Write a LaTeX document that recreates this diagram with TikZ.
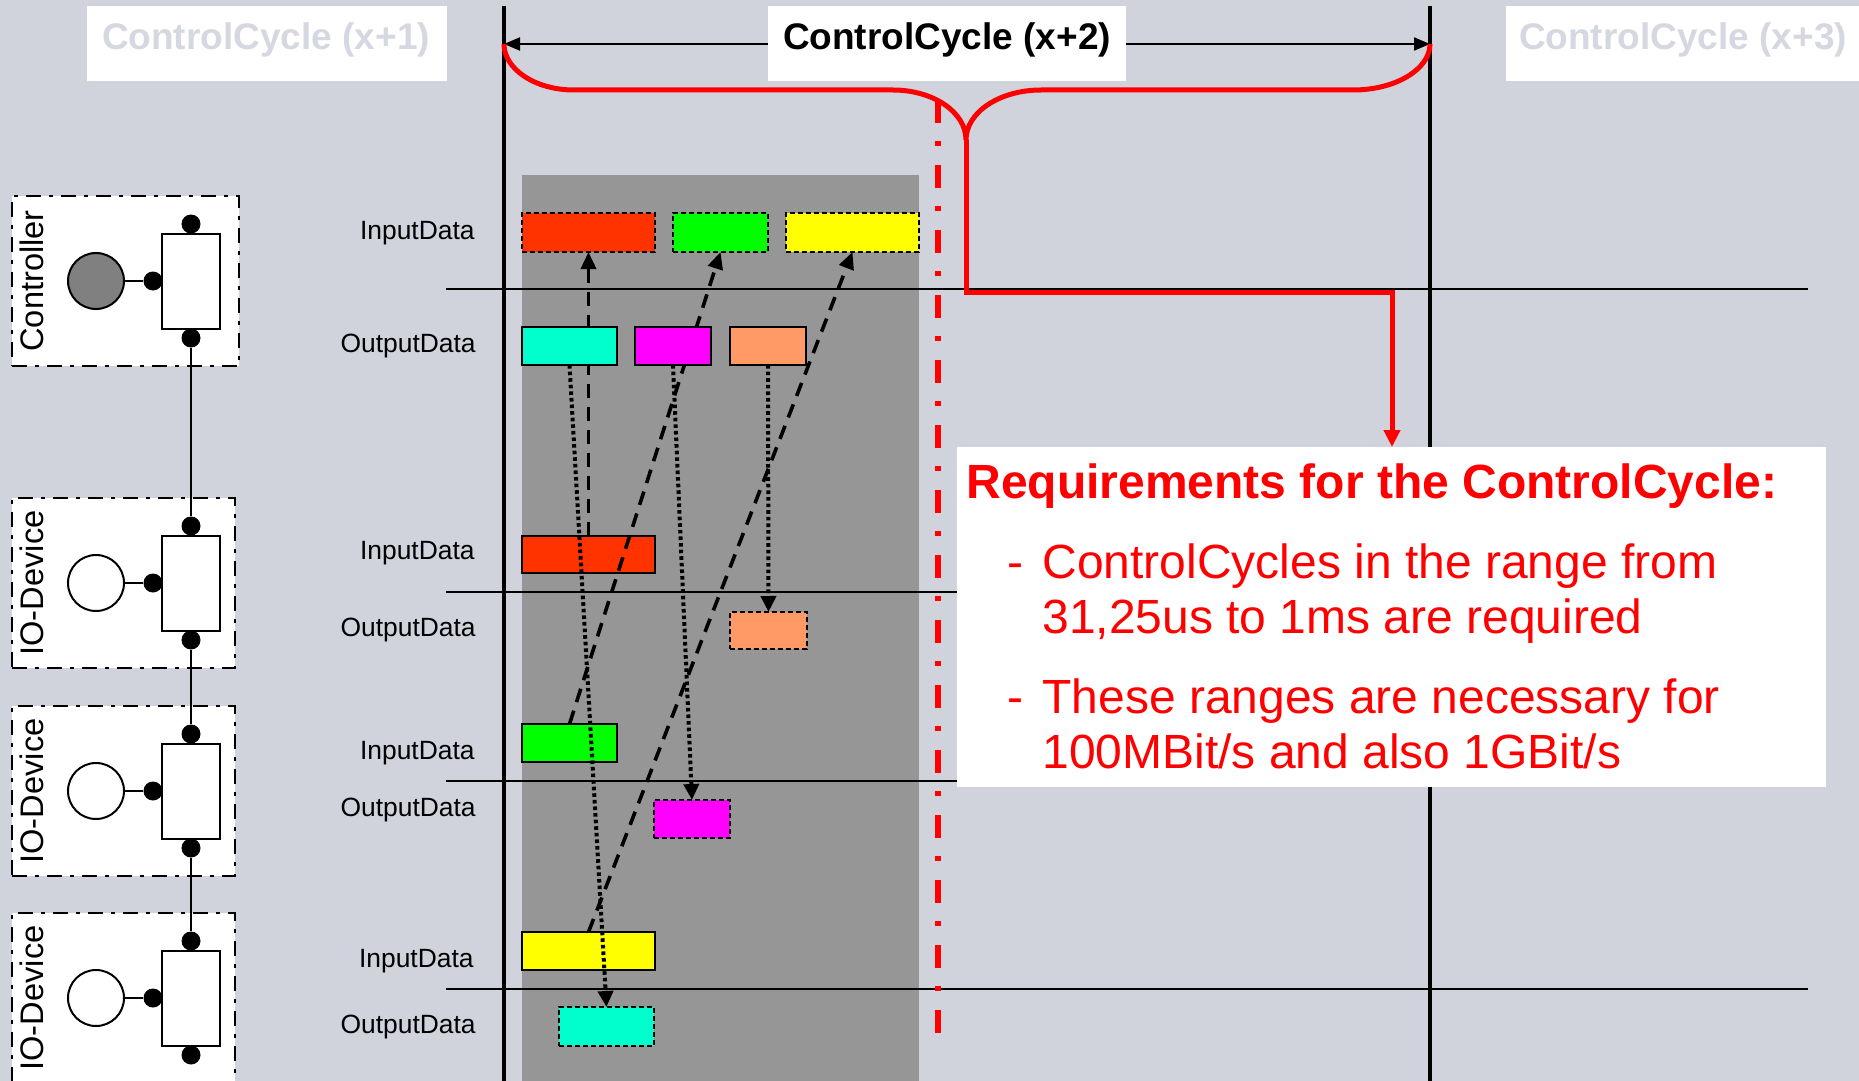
\documentclass[tikz,border=0pt]{standalone}
\usepackage{fontspec}
\setmainfont{Liberation Sans}
\usetikzlibrary{arrows.meta,fit,calc}

\definecolor{bgcol}{RGB}{208,211,220}
\definecolor{panelgray}{RGB}{150,150,150}
\definecolor{ghost}{RGB}{213,216,224}
\definecolor{redin}{RGB}{255,51,0}
\definecolor{greenin}{RGB}{0,255,0}
\definecolor{yellowin}{RGB}{255,255,0}
\definecolor{cyanout}{RGB}{0,255,204}
\definecolor{magout}{RGB}{255,0,255}
\definecolor{orangeout}{RGB}{255,153,102}
\definecolor{coregray}{RGB}{128,128,128}
\definecolor{alertred}{RGB}{255,0,0}

% one network station: dash-dot frame, core circle, port block with three ports
% #1 name, #2 top edge, #3 right edge, #4 label, #5 core fill
\newcommand{\ioUnit}[5]{%
  \node[unitframe, fit={(12,#2)(#3,#2+170)}] (#1frame) {};
  \node[coreball, fill=#5] (#1core) at (96,#2+85) {};
  \node[portbox] (#1port) at (191,#2+85) {};
  \node[portdot] (#1up) at (191,#2+28) {};
  \node[portdot] (#1down) at (191,#2+142) {};
  \node[portdot] (#1side) at (153,#2+85) {};
  \draw[line width=1pt] (#1core) -- (#1side);
  \node[unitfont, rotate=90] (#1label) at (32,#2+85) {#4};
}

\begin{document}
\begin{tikzpicture}[x=0.5pt, y=-0.5pt,
  plainbox/.style={rectangle, inner sep=0pt, outer sep=0pt},
  fixedbox/.style={plainbox, draw=black, line width=1pt},
  sentbox/.style={plainbox, draw=black, line width=1pt, dash pattern=on 2.5pt off 1.5pt},
  unitframe/.style={plainbox, draw=black, fill=white, line width=1pt,
                    dash pattern=on 7.5pt off 4pt on 2pt off 4pt},
  coreball/.style={circle, draw=black, line width=1pt, minimum size=28pt, inner sep=0pt},
  portbox/.style={plainbox, draw=black, fill=white, line width=1pt,
                  minimum width=29pt, minimum height=47.5pt},
  portdot/.style={circle, fill=black, minimum size=9.5pt, inner sep=0pt},
  unitfont/.style={inner sep=0pt, font=\fontsize{16.3pt}{19pt}\selectfont},
  lanefont/.style={inner sep=0pt, anchor=base east, font=\fontsize{13.2pt}{15pt}\selectfont},
  cyclefont/.style={inner sep=0pt, anchor=base, font=\fontsize{18.5pt}{22pt}\selectfont\bfseries},
  reqfont/.style={inner sep=0pt, anchor=base west, text=alertred,
                  font=\fontsize{24pt}{28pt}\selectfont},
  inflow/.style={line width=1.8pt, dash pattern=on 7pt off 4.5pt,
                 -{Triangle[length=8.5pt,width=7.5pt]}},
  outflow/.style={line width=2pt, dash pattern=on 1.8pt off 1.5pt,
                  -{Triangle[length=8pt,width=7.5pt]}},
  spanarrow/.style={line width=1pt, -{Triangle[length=8pt,width=6.5pt]}},
  redpath/.style={alertred, line width=2.5pt}
]
\useasboundingbox (0,0) rectangle (1859,1081);
\clip (0,0) rectangle (1859,1081);
\fill[bgcol] (0,0) rectangle (1859,1081);

% busy part of the cycle
\fill[panelgray] (522,175) rectangle (919,1081);

% station rows and cycle borders
\foreach \yy in {289,592,781,989}
  \draw[line width=1.25pt] (446,\yy) -- (1808,\yy);
\draw[line width=2pt] (504,6) -- (504,1081);
\draw[line width=2pt] (1430,6) -- (1430,1081);

% cycle headings
\node[plainbox, fill=white, fit={(87,6)(447,81)}] (cc1) {};
\node[plainbox, fill=white, fit={(768,6)(1126,81)}] (cc2) {};
\node[plainbox, fill=white, fit={(1506,6)(1859,81)}] (cc3) {};
\node[cyclefont, text=ghost] (cc1text) at (266,50) {ControlCycle (x+1)};
\node[cyclefont, text=black] (cc2text) at (947,50) {ControlCycle (x+2)};
\node[cyclefont, text=ghost] (cc3text) at (1683,50) {ControlCycle (x+3)};

\coordinate (cycStart) at (504,44);
\coordinate (cycEnd) at (1430,44);
\draw[spanarrow] (cc2.west |- cycStart) -- (cycStart);
\draw[spanarrow] (cc2.east |- cycEnd) -- (cycEnd);

% brace over the cycle
\coordinate (cusp) at (966,140);
\draw[redpath] (cycStart)
  .. controls (504,69) and (535,90) .. (574,90)
  -- (893,90)
  .. controls (933,90) and (966,112) .. (cusp)
  .. controls (966,112) and (1000,90) .. (1041,90)
  -- (1353,90)
  .. controls (1396,90) and (1430,69) .. (cycEnd);

% end of the data exchange
\draw[alertred, line width=3pt, dash pattern=on 11.5pt off 9pt on 2.5pt off 9.5pt]
  (938,100) -- (938,1046);

% lane labels
\node[lanefont] (l1) at (475,239) {InputData};
\node[lanefont] (l2) at (476,352) {OutputData};
\node[lanefont] (l3) at (475,559) {InputData};
\node[lanefont] (l4) at (476,636) {OutputData};
\node[lanefont] (l5) at (475,759) {InputData};
\node[lanefont] (l6) at (476,816) {OutputData};
\node[lanefont] (l7) at (474,967) {InputData};
\node[lanefont] (l8) at (476,1033) {OutputData};

% stations
\ioUnit{ctrl}{196}{239}{Controller}{coregray}
\ioUnit{dev1}{498}{235}{IO-Device}{white}
\ioUnit{dev2}{706}{235}{IO-Device}{white}
\ioUnit{dev3}{913}{235}{IO-Device}{white}
\draw[line width=1pt] (ctrldown) -- (dev1up);
\draw[line width=1pt] (dev1down) -- (dev2up);
\draw[line width=1pt] (dev2down) -- (dev3up);

% frames received by the controller
\node[sentbox, fill=redin, fit={(522,213)(655,252)}] (ctlIn1) {};
\node[sentbox, fill=greenin, fit={(673,213)(768,252)}] (ctlIn2) {};
\node[sentbox, fill=yellowin, fit={(786,213)(919,252)}] (ctlIn3) {};

% frames sent by the devices
\node[fixedbox, fill=redin, fit={(522,536)(655,573)}] (devIn1) {};
\node[fixedbox, fill=greenin, fit={(522,724)(617,762)}] (devIn2) {};
\node[fixedbox, fill=yellowin, fit={(522,932)(655,970)}] (devIn3) {};

% frames received by the devices
\node[sentbox, fill=orangeout, fit={(730,612)(807,649)}] (devOut1) {};
\node[sentbox, fill=magout, fit={(654,800)(730,838)}] (devOut2) {};
\node[sentbox, fill=cyanout, fit={(559,1007)(654,1046)}] (devOut3) {};

% input data path
\draw[inflow] (devIn1.north) -- (ctlIn1.south);
\draw[inflow] (devIn2.north) -- (ctlIn2.south);
\draw[inflow] (devIn3.north) -- (ctlIn3.south);

% frames sent by the controller
\node[fixedbox, fill=cyanout, fit={(522,327)(617,365)}] (ctlOut1) {};
\node[fixedbox, fill=magout, fit={(635,327)(711,365)}] (ctlOut2) {};
\node[fixedbox, fill=orangeout, fit={(730,327)(806,365)}] (ctlOut3) {};

% output data path
\draw[outflow] (ctlOut1.south) -- (devOut3.north);
\draw[outflow] (ctlOut2.south) -- (devOut2.north);
\draw[outflow] (ctlOut3.south) -- (devOut1.north);

% requirements note
\node[plainbox, fill=white, fit={(957,447)(1826,787)}] (req) {};
\coordinate (elbow) at (1392,292);
\draw[redpath, -{Triangle[length=8.5pt,width=8pt]}] (cusp) |- (elbow) -- (elbow |- req.north);

\node[reqfont, font=\fontsize{24pt}{28pt}\selectfont\bfseries] (reqhead) at (966,498) {Requirements for the ControlCycle:};
\node[reqfont] (dashA) at (1007,578) {-};
\node[reqfont] (reqA1) at (1042,578) {ControlCycles in the range from};
\node[reqfont] (reqA2) at (1042,633) {31,25us to 1ms are required};
\node[reqfont] (dashB) at (1007,713) {-};
\node[reqfont] (reqB1) at (1042,713) {These ranges are necessary for};
\node[reqfont] (reqB2) at (1042,768) {100MBit/s and also 1GBit/s};
\end{tikzpicture}
\end{document}
